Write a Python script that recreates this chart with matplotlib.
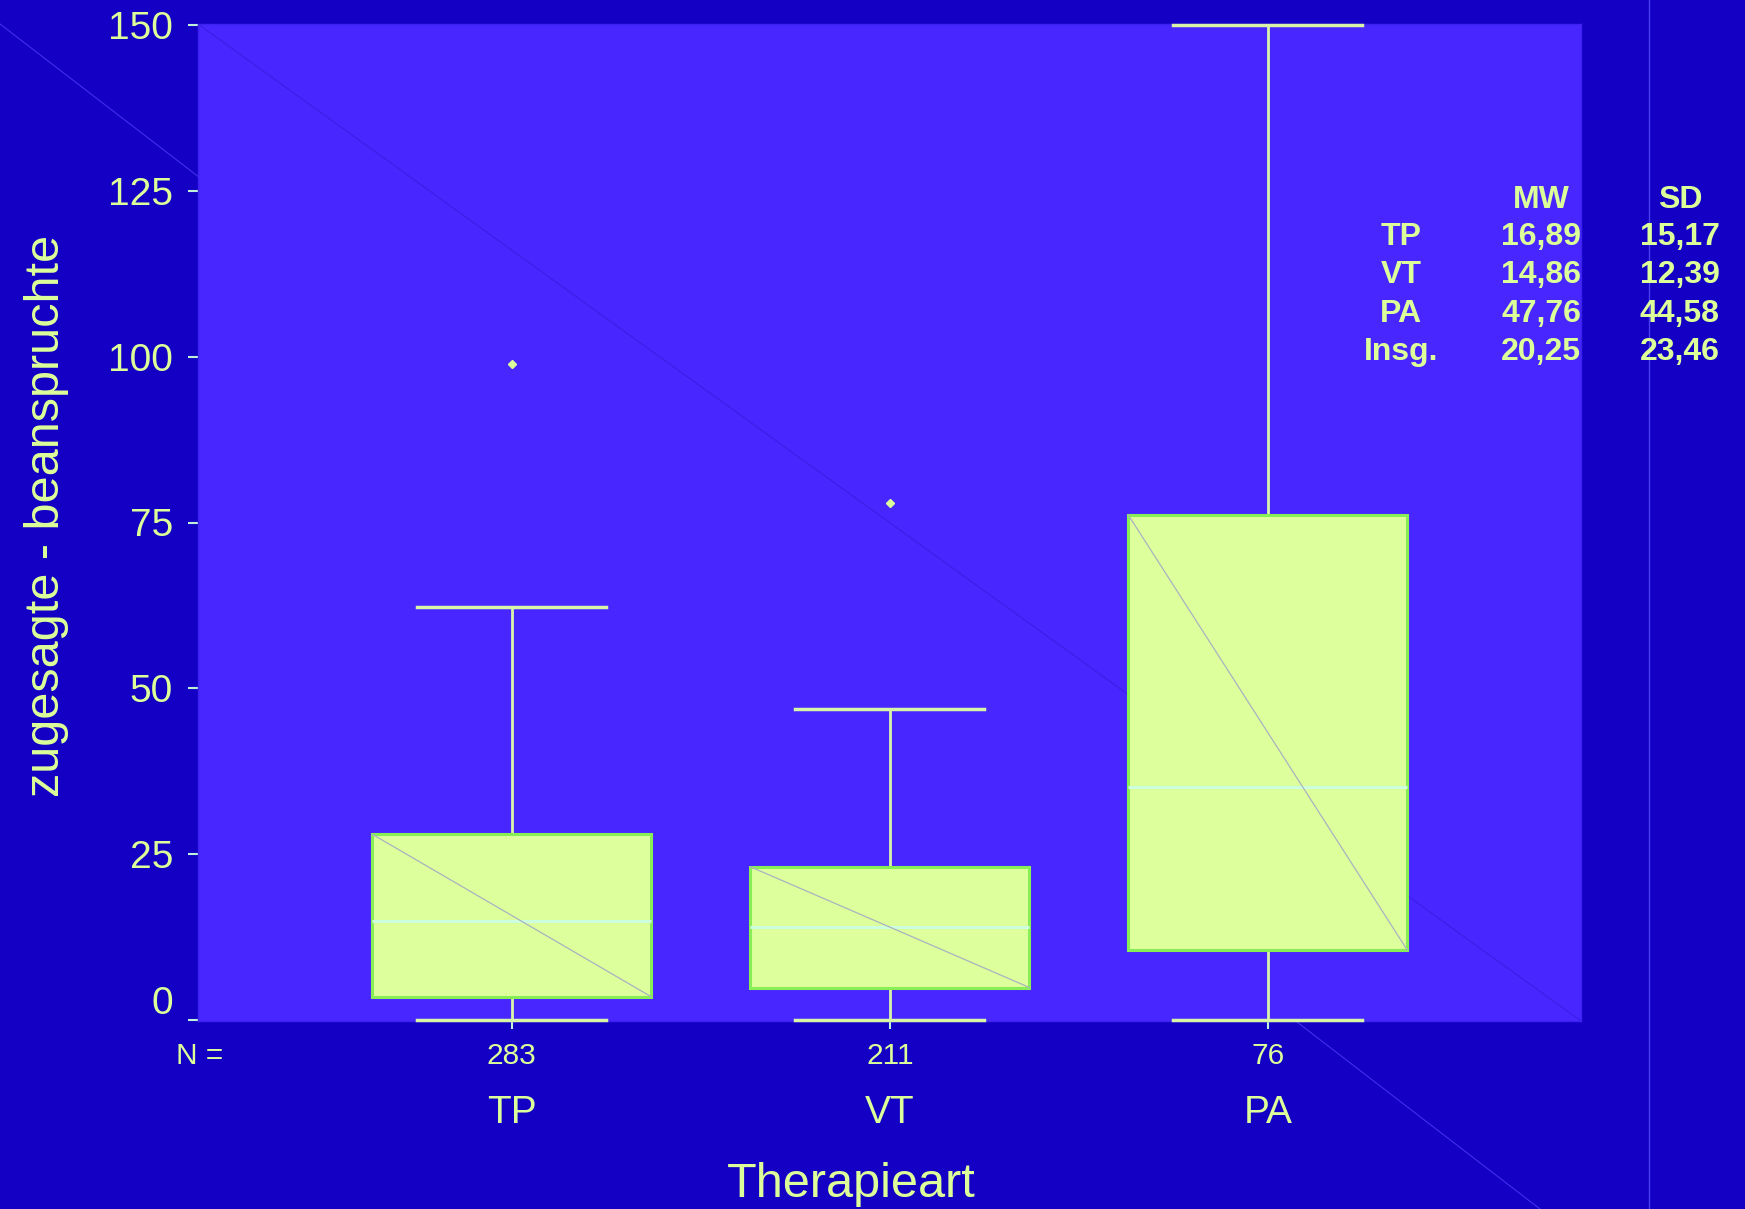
import matplotlib
matplotlib.use("Agg")
import matplotlib.pyplot as plt
from matplotlib.lines import Line2D
from matplotlib.transforms import ScaledTranslation

plt.rcParams['font.family'] = ['Liberation Sans', 'DejaVu Sans']

# ---- data ----
categories = ["TP", "VT", "PA"]
n_values = [283, 211, 76]
q1_values = [3.5, 4.9, 10.5]
median_values = [14.9, 14.0, 35.1]
q3_values = [28.0, 23.1, 76.1]
whisker_low = [0.0, 0.0, 0.0]
whisker_high = [62.2, 46.9, 150.0]
outliers = [[98.9], [78.0], []]
yticks = [0, 25, 50, 75, 100, 125, 150]

table_rows = ["TP", "VT", "PA", "Insg."]
table_mw = ["16,89", "14,86", "47,76", "20,25"]
table_sd = ["15,17", "12,39", "44,58", "23,46"]

# ---- colours ----
FIG_BG = "#1400c4"
AX_BG = "#4826ff"
TXT = "#ddff99"
BOX_FILL = "#ddff9c"
BOX_EDGE = "#88ee55"
MED = "#ccffdd"
WHISK = "#d8f4a8"

W, H = 1745, 1209
fig = plt.figure(figsize=(W / 100, H / 100), dpi=100, facecolor=FIG_BG)
ax = fig.add_axes([198 / W, 1 - 1021 / H, (1581 - 198) / W, (1021 - 24) / H])
ax.set_facecolor(AX_BG)

# decorative lines in the background
fig.add_artist(Line2D([0, 1540 / W], [1 - 24 / H, 0], transform=fig.transFigure,
                      color="#3f30ea", lw=0.8, zorder=-1))
fig.add_artist(Line2D([1649 / W, 1649 / W], [0, 1], transform=fig.transFigure,
                      color="#4a40f0", lw=1.0, zorder=-1))
ax.plot([0, 1], [1, 0], transform=ax.transAxes, color="#3a1ee6", lw=0.8, zorder=0.5)

positions = [1, 2, 3]
box_w = 0.738
stats = []
for i, c in enumerate(categories):
    stats.append(dict(label=c, med=median_values[i], q1=q1_values[i], q3=q3_values[i],
                      whislo=whisker_low[i], whishi=whisker_high[i], fliers=outliers[i]))

bp = ax.bxp(stats, positions=positions, widths=box_w, capwidths=0.5, patch_artist=True,
            showfliers=True, manage_ticks=False,
            boxprops=dict(facecolor=BOX_FILL, edgecolor=BOX_EDGE, linewidth=2.2),
            medianprops=dict(color=MED, linewidth=2.2),
            whiskerprops=dict(color=WHISK, linewidth=2.0),
            capprops=dict(color=WHISK, linewidth=2.5),
            flierprops=dict(marker="D", markersize=4.5, markerfacecolor=TXT,
                            markeredgecolor=TXT))
for b in bp["boxes"]:
    b.set_zorder(2)
for cap in bp["caps"]:
    cap.set_clip_on(False)
    cap.set_zorder(3)
for wl in bp["whiskers"]:
    wl.set_zorder(1.8)

# faint diagonal across each box
for i, p in enumerate(positions):
    ax.plot([p - box_w / 2, p + box_w / 2], [q3_values[i], q1_values[i]],
            color="#aab2c0", lw=0.9, zorder=2.5)

ax.set_xlim(0.17, 3.828)
ax.set_ylim(-0.15, 150.15)
ax.set_yticks(yticks)
ax.set_yticklabels([str(v) for v in yticks])
ax.set_xticks(positions)
ax.set_xticklabels(categories)

ax.tick_params(axis="y", colors="#bff0d8", length=7.2, width=1.5, labelsize=28,
               labelcolor=TXT, pad=10.8)
ax.tick_params(axis="x", colors="#bff0d8", length=6, width=1.5, labelsize=28,
               labelcolor=TXT, pad=47.3)
for lab in ax.get_xticklabels():
    lab.set_verticalalignment("top")

# shift the "0" label upward
fig.canvas.draw()
lab0 = ax.get_yticklabels()[0]
lab0.set_transform(lab0.get_transform() + ScaledTranslation(0, 20 / 100, fig.dpi_scale_trans))

for s in ax.spines.values():
    s.set_color("#3c22ee")
    s.set_linewidth(1.0)

# N row
ax.annotate("N =", xy=(0, 0), xycoords="axes fraction", xytext=(-15.8, -15.2),
            textcoords="offset points", ha="left", va="top", fontsize=21.5, color=TXT)
for p, n in zip(positions, n_values):
    ax.annotate(str(n), xy=(p, 0), xycoords=("data", "axes fraction"), xytext=(0, -15.2),
                textcoords="offset points", ha="center", va="top", fontsize=21.5, color=TXT)

# axis titles
fig.text(47 / W, 1 - 516 / H, "zugesagte - beanspruchte", rotation=90, ha="center",
         va="center", fontsize=35, color=TXT)
fig.text(851 / W, 1 - 1197 / H, "Therapieart", ha="center", va="baseline",
         fontsize=35, color=TXT)

# statistics table
fs_t = 23
fig.text(1541 / W, 1 - 208 / H, "MW", ha="center", va="baseline", fontsize=fs_t,
         fontweight="bold", color=TXT)
fig.text(1680 / W, 1 - 208 / H, "SD", ha="center", va="baseline", fontsize=fs_t,
         fontweight="bold", color=TXT)
row_base = [245, 283, 322, 360]
for r, mw, sd, yb in zip(table_rows, table_mw, table_sd, row_base):
    fig.text(1401 / W, 1 - yb / H, r, ha="center", va="baseline", fontsize=fs_t,
             fontweight="bold", color=TXT)
    fig.text(1541 / W, 1 - yb / H, mw, ha="center", va="baseline", fontsize=fs_t,
             fontweight="bold", color=TXT)
    fig.text(1680 / W, 1 - yb / H, sd, ha="center", va="baseline", fontsize=fs_t,
             fontweight="bold", color=TXT)

fig.savefig("out.png", dpi=100, facecolor=FIG_BG)
